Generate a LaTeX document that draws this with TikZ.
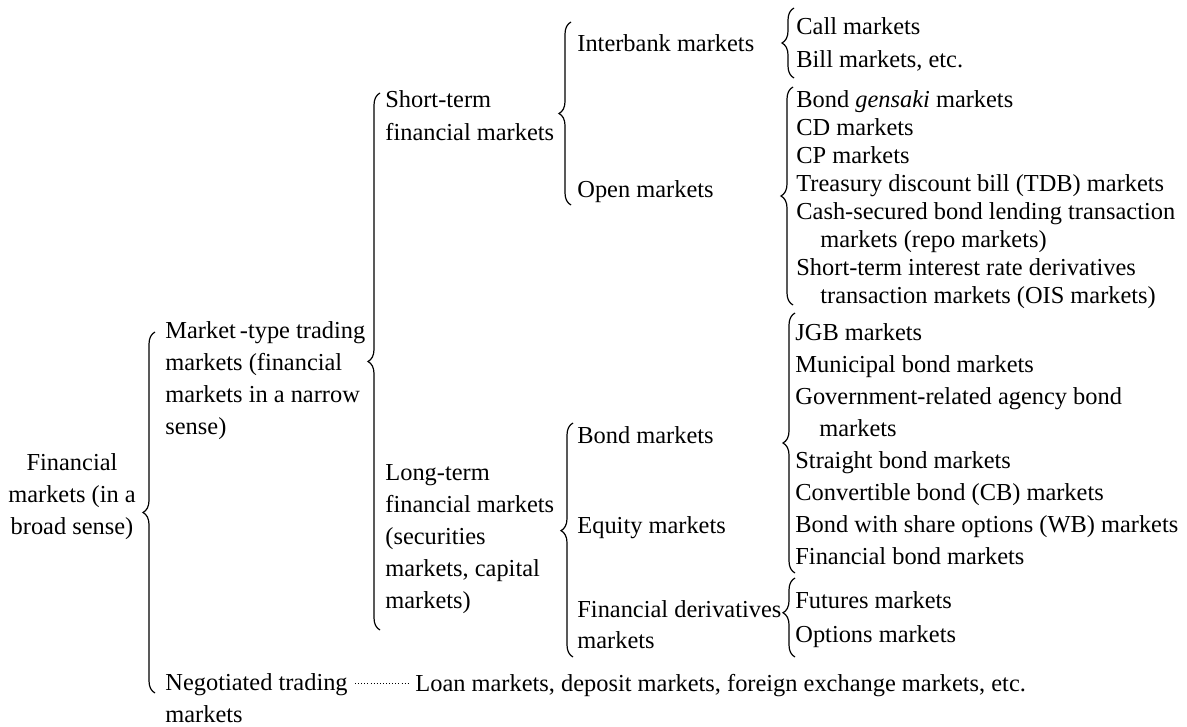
\documentclass[tikz,border=0pt]{standalone}
\usepackage{fontspec}
\setmainfont{Liberation Serif}
\usetikzlibrary{decorations.pathreplacing,calc}

% stacked lines: #1 column alignment, #2 line spacing, #3 lines
\newcommand{\rows}[3]{\fontsize{12.2pt}{#2}\selectfont\begin{tabular}[t]{@{}#1@{}}#3\end{tabular}}
\newcommand{\ind}{\hspace*{12pt}}

\tikzset{
  txt/.style={inner sep=0pt, anchor=base west, font=\fontsize{12.2pt}{14pt}\selectfont},
  brc/.style={decorate, decoration={brace, amplitude=6pt, #1}, line width=0.6pt},
  brc/.default={aspect=0.5},
  dots/.style={line width=0.5pt, dash pattern=on 0.45pt off 1.1pt}
}

\begin{document}
\begin{tikzpicture}[x=0.5pt, y=-0.5pt]
\useasboundingbox (0,0) rectangle (1187,727);

% level 0
\node[txt, anchor=base] (fin) at (72,470) {\rows{c}{16pt}{Financial\\markets (in a\\broad sense)}};

% level 1
\node[txt] (mkt) at (165,338) {\rows{l}{16pt}{Market\,-type trading\\markets (financial\\markets in a narrow\\sense)}};
\node[txt] (neg) at (165,690) {\rows{l}{16pt}{Negotiated trading\\markets}};
\node[txt] (loan) at (415,691) {Loan markets, deposit markets, foreign exchange markets, etc.};

% level 2
\node[txt] (short) at (385,108) {\rows{l}{16.5pt}{Short-term\\financial markets}};
\node[txt] (long) at (385,480) {\rows{l}{16pt}{Long-term\\financial markets\\(securities\\markets, capital\\markets)}};

% level 3
\node[txt] (inter) at (577,52) {Interbank markets};
\node[txt] (open) at (577,198) {Open markets};
\node[txt] (bond) at (577,443) {Bond markets};
\node[txt] (equity) at (577,533) {Equity markets};
\node[txt] (deriv) at (577,617) {\rows{l}{15.5pt}{Financial derivatives\\markets}};

% level 4
\node[txt] (callbill) at (796,35) {\rows{l}{16.5pt}{Call markets\\Bill markets, etc.}};
\node[txt] (openlist) at (796,108) {\rows{l}{14pt}{Bond \textit{gensaki} markets\\CD markets\\CP markets\\Treasury discount bill (TDB) markets\\Cash-secured bond lending transaction\\\ind markets (repo markets)\\Short-term interest rate derivatives\\\ind transaction markets (OIS markets)}};
\node[txt] (bondlist) at (795,340) {\rows{l}{16pt}{JGB markets\\Municipal bond markets\\Government-related agency bond\\\ind markets\\Straight bond markets\\Convertible bond (CB) markets\\Bond with share options (WB) markets\\Financial bond markets}};
\node[txt] (derivlist) at (795,608) {\rows{l}{17pt}{Futures markets\\Options markets}};

% braces
\draw[brc] (155,693) -- (155,332);
\draw[brc] (380,630) -- (380,93);
\draw[brc] (571,205) -- (571,22);
\draw[brc] (794,78) -- (794,8);
\draw[brc] (793,305) -- (793,87);
\draw[brc={aspect=0.54}] (573,657) -- (573,423);
\draw[brc] (795,573) -- (795,313);
\draw[brc={aspect=0.56}] (795,657) -- (795,578);

% negotiated trading leads to its markets
\coordinate (d1) at (355,683);
\draw[dots] (d1) -- ($(loan.base west)+(-6,-8)$);
\end{tikzpicture}
\end{document}
